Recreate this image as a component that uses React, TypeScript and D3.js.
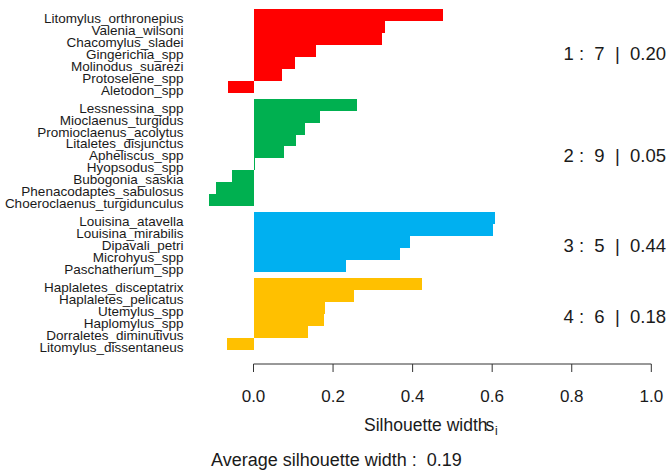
import React from "react";
import * as d3 from "d3";

const species = [
  "Litomylus_orthronepius", "Valenia_wilsoni", "Chacomylus_sladei", "Gingerichia_spp",
  "Molinodus_suarezi", "Protoselene_spp", "Aletodon_spp",
  "Lessnessina_spp", "Mioclaenus_turgidus", "Promioclaenus_acolytus", "Litaletes_disjunctus",
  "Apheliscus_spp", "Hyopsodus_spp", "Bubogonia_saskia", "Phenacodaptes_sabulosus",
  "Choeroclaenus_turgidunculus",
  "Louisina_atavella", "Louisina_mirabilis", "Dipavali_petri", "Microhyus_spp", "Paschatherium_spp",
  "Haplaletes_disceptatrix", "Haplaletes_pelicatus", "Utemylus_spp", "Haplomylus_spp",
  "Dorraletes_diminutivus", "Litomylus_dissentaneus",
];
const silWidths = [
  0.476, 0.331, 0.323, 0.157, 0.104, 0.072, -0.064,
  0.260, 0.167, 0.129, 0.107, 0.077, 0.003, -0.054, -0.094, -0.112,
  0.607, 0.602, 0.393, 0.368, 0.233,
  0.424, 0.253, 0.180, 0.177, 0.136, -0.066,
];
const clusterOf = [
  1, 1, 1, 1, 1, 1, 1,
  2, 2, 2, 2, 2, 2, 2, 2, 2,
  3, 3, 3, 3, 3,
  4, 4, 4, 4, 4, 4,
];
const clusterIds = [1, 2, 3, 4];
const clusterColors = ["#FF0000", "#00B050", "#00B0F0", "#FFC000"];
const xTicks = [0, 0.2, 0.4, 0.6, 0.8, 1.0];

const FONT = "'Liberation Sans', Arial, Helvetica, sans-serif";

export default function App() {
  const gap = 0.5;
  const starts = species.map((_, i) => i + gap * (clusterOf[i] - 1));
  const totalUnits = species.length + gap * (clusterIds.length - 1);

  const x = d3.scaleLinear().domain([0, 1]).range([253.5, 651.3]);
  const y = d3.scaleLinear().domain([0, totalUnits]).range([9, 349.7]);

  const stats = clusterIds.map((c) => {
    const idx = species.map((_, i) => i).filter((i) => clusterOf[i] === c);
    const vals = idx.map((i) => silWidths[i]);
    const first = starts[idx[0]];
    const last = starts[idx[idx.length - 1]] + 1;
    return { c, n: idx.length, mean: d3.mean(vals) as number, mid: (first + last) / 2 };
  });
  const avg = d3.mean(silWidths) as number;

  const axisY = 364;

  return (
    <svg
      width={669}
      height={472}
      style={{ position: "absolute", left: 0, top: 0, background: "#fff" }}
      fontFamily={FONT}
    >
      <rect x={0} y={0} width={669} height={472} fill="#fff" />
      {species.map((name, i) => {
        const v = silWidths[i];
        const y0 = y(starts[i]);
        const y1 = y(starts[i] + 1);
        return (
          <rect
            key={name}
            x={Math.min(x(0), x(v))}
            y={y0}
            width={Math.abs(x(v) - x(0))}
            height={y1 - y0}
            fill={clusterColors[clusterOf[i] - 1]}
            shapeRendering="crispEdges"
          />
        );
      })}
      {species.map((name, i) => (
        <text
          key={"l" + name}
          x={183.5}
          y={y(starts[i] + 0.5) + 8}
          textAnchor="end"
          fontSize={13.5}
          fill="#1a1a1a"
        >
          {name}
        </text>
      ))}
      {stats.map((s) => (
        <text
          key={"s" + s.c}
          x={666}
          y={y(s.mid) + 3}
          dy="0.35em"
          textAnchor="end"
          fontSize={18.5}
          fill="#1a1a1a"
          style={{ whiteSpace: "pre" }}
        >
          {`${s.c} :  ${s.n}  |  ${s.mean.toFixed(2)}`}
        </text>
      ))}
      <line x1={x(0)} x2={x(1)} y1={axisY} y2={axisY} stroke="#333" strokeWidth={1} />
      {xTicks.map((t) => (
        <g key={"t" + t}>
          <line x1={x(t)} x2={x(t)} y1={axisY} y2={axisY + 8} stroke="#333" strokeWidth={1} />
          <text x={x(t)} y={402} textAnchor="middle" fontSize={17} fill="#1a1a1a">
            {d3.format(".1f")(t)}
          </text>
        </g>
      ))}
      <text x={364} y={431} fontSize={17.5} fill="#1a1a1a">
        Silhouette width
      </text>
      <text x={485.5} y={431} fontSize={17.5} fill="#1a1a1a">
        s
      </text>
      <text x={495} y={435} fontSize={12} fill="#1a1a1a">
        i
      </text>
      <text x={211} y={466} fontSize={18} fill="#1a1a1a" style={{ whiteSpace: "pre" }}>
        {`Average silhouette width :  ${avg.toFixed(2)}`}
      </text>
    </svg>
  );
}
